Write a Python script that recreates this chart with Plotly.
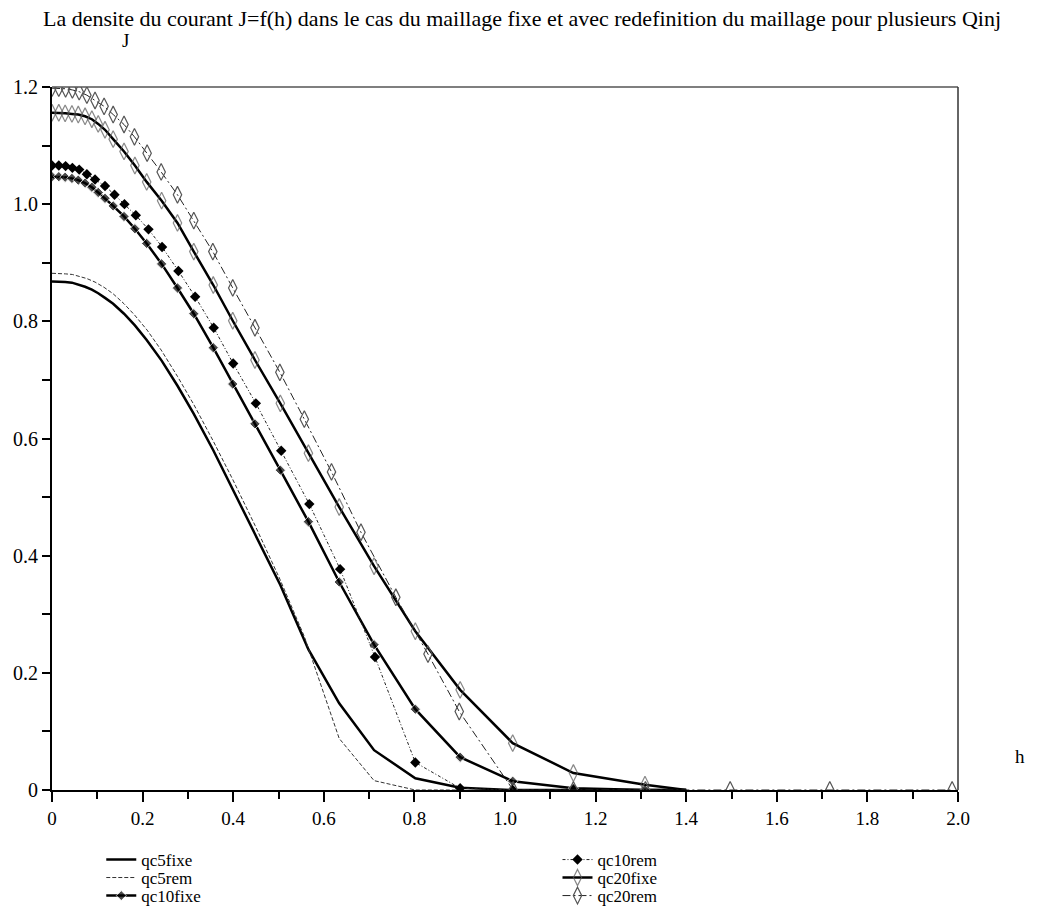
import plotly.graph_objects as go

# ---------------- data ----------------
# fixed mesh (h) used by the "fixe" series
h_fixe = [0.0, 0.015, 0.029, 0.044, 0.058, 0.073, 0.088, 0.102, 0.117, 0.135, 0.159, 0.183,
          0.209, 0.242, 0.277, 0.313, 0.356, 0.399, 0.448, 0.504, 0.566, 0.634, 0.711, 0.802,
          0.901, 1.017, 1.151, 1.309, 1.400]

qc5fixe = [0.868, 0.868, 0.867, 0.866, 0.863, 0.859, 0.854, 0.848, 0.840, 0.830, 0.813, 0.793,
           0.768, 0.733, 0.690, 0.642, 0.580, 0.514, 0.437, 0.350, 0.240, 0.148, 0.068, 0.020,
           0.004, 0.000, 0.000, 0.000, 0.000]

qc10fixe = [1.047, 1.047, 1.046, 1.044, 1.041, 1.036, 1.029, 1.020, 1.010, 0.997, 0.979, 0.958,
            0.933, 0.898, 0.857, 0.813, 0.755, 0.693, 0.625, 0.546, 0.458, 0.355, 0.248, 0.138,
            0.056, 0.015, 0.003, 0.000, 0.000]

qc20fixe = [1.156, 1.156, 1.155, 1.154, 1.153, 1.150, 1.145, 1.137, 1.127, 1.111, 1.090, 1.066,
            1.038, 1.006, 0.968, 0.919, 0.862, 0.801, 0.734, 0.660, 0.575, 0.483, 0.382, 0.271,
            0.171, 0.080, 0.029, 0.009, 0.000]

# remeshed series
h_qc5rem = [0.0, 0.015, 0.030, 0.045, 0.060, 0.077, 0.095, 0.115, 0.135, 0.159, 0.182, 0.210,
            0.241, 0.277, 0.313, 0.355, 0.399, 0.448, 0.503, 0.557, 0.634, 0.711, 0.802, 0.901]
qc5rem = [0.882, 0.882, 0.881, 0.880, 0.877, 0.873, 0.867, 0.858, 0.847, 0.830, 0.811, 0.785,
          0.751, 0.706, 0.658, 0.597, 0.530, 0.452, 0.360, 0.262, 0.088, 0.016, 0.000, 0.000]

h_qc10rem = [0.0, 0.015, 0.030, 0.045, 0.060, 0.077, 0.095, 0.117, 0.138, 0.160, 0.185, 0.213,
             0.243, 0.279, 0.316, 0.357, 0.400, 0.450, 0.506, 0.568, 0.636, 0.713, 0.802, 0.901,
             1.017, 1.151]
qc10rem = [1.066, 1.066, 1.065, 1.062, 1.059, 1.051, 1.042, 1.031, 1.016, 1.000, 0.981, 0.957,
           0.927, 0.886, 0.842, 0.789, 0.728, 0.660, 0.579, 0.488, 0.377, 0.227, 0.047, 0.003,
           0.000, 0.000]

h_qc20rem = [0.0, 0.015, 0.030, 0.045, 0.060, 0.077, 0.095, 0.115, 0.135, 0.159, 0.182, 0.210,
             0.241, 0.277, 0.313, 0.355, 0.399, 0.448, 0.503, 0.557, 0.617, 0.682, 0.759, 0.830,
             0.899, 1.018, 1.151, 1.310, 1.497, 1.717, 1.987]
qc20rem = [1.198, 1.198, 1.197, 1.195, 1.192, 1.186, 1.177, 1.167, 1.153, 1.136, 1.115, 1.087,
           1.055, 1.016, 0.972, 0.919, 0.857, 0.789, 0.713, 0.633, 0.543, 0.440, 0.329, 0.232,
           0.134, 0.000, 0.000, 0.000, 0.000, 0.000, 0.000]

x_tickvals = [0, 0.2, 0.4, 0.6, 0.8, 1.0, 1.2, 1.4, 1.6, 1.8, 2.0]
x_ticktext = ["0", "0.2", "0.4", "0.6", "0.8", "1.0", "1.2", "1.4", "1.6", "1.8", "2.0"]
y_tickvals = [0, 0.2, 0.4, 0.6, 0.8, 1.0, 1.2]
y_ticktext = ["0", "0.2", "0.4", "0.6", "0.8", "1.0", "1.2"]

title_text = ("La densite du courant J=f(h) dans le cas du maillage fixe et avec "
              "redefinition du maillage pour plusieurs Qinj")

# ---------------- figure ----------------
FONT = "Liberation Serif"
fig = go.Figure()


def sizes(n, s, last_hidden=False):
    out = [s] * n
    if last_hidden:
        out[-1] = 0
    return out


fig.add_trace(go.Scatter(x=h_fixe, y=qc5fixe, name="qc5fixe", mode="lines",
                         line=dict(color="black", width=2.5), legend="legend",
                         showlegend=True))
fig.add_trace(go.Scatter(x=h_qc5rem, y=qc5rem, name="qc5rem", mode="lines",
                         line=dict(color="#333333", width=1, dash="4px,2px"), legend="legend2"))
fig.add_trace(go.Scatter(x=h_fixe, y=qc10fixe, name="qc10fixe", mode="lines+markers",
                         line=dict(color="black", width=2.5),
                         marker=dict(symbol="diamond", color="black",
                                     size=sizes(len(h_fixe), 8, True)),
                         legend="legend3"))
fig.add_trace(go.Scatter(x=h_qc10rem, y=qc10rem, name="qc10rem", mode="lines+markers",
                         line=dict(color="#222222", width=1, dash="3px,2px,1px,2px"),
                         marker=dict(symbol="diamond", color="black", size=8),
                         legend="legend4"))
fig.add_trace(go.Scatter(x=h_fixe, y=qc20fixe, name="qc20fixe", mode="lines+markers",
                         line=dict(color="black", width=2.5),
                         marker=dict(symbol="diamond-tall-open", color="#555555",
                                     size=sizes(len(h_fixe), 12, True),
                                     line=dict(width=1.2)),
                         legend="legend5"))
fig.add_trace(go.Scatter(x=h_qc20rem, y=qc20rem, name="qc20rem", mode="lines+markers",
                         line=dict(color="#222222", width=1, dash="8px,3px,2px,3px"),
                         marker=dict(symbol="diamond-tall-open", color="#555555", size=12,
                                     line=dict(width=1.2)),
                         legend="legend6"))

# frame (top and right)
fig.add_shape(type="line", xref="x domain", yref="y domain", x0=0, x1=1, y0=1, y1=1,
              line=dict(color="#555555", width=1.5))
fig.add_shape(type="line", xref="x domain", yref="y domain", x0=1, x1=1, y0=0, y1=1,
              line=dict(color="#333333", width=1.5))


def leg(x, y):
    return dict(x=x, y=y, xref="container", yref="container", xanchor="left",
                yanchor="middle", orientation="v", bgcolor="rgba(0,0,0,0)",
                font=dict(family=FONT, size=17), tracegroupgap=0)


col_x = [0.097, 0.534]
row_y = [0.0518, 0.0320, 0.0121]

fig.update_layout(
    width=1044, height=907,
    showlegend=True,
    margin=dict(l=52, r=86, t=87, b=117, autoexpand=False),
    paper_bgcolor="white", plot_bgcolor="white",
    font=dict(family=FONT, color="black", size=17),
    title=dict(text=title_text, x=0.5, xref="container", y=0.980, yref="container",
               xanchor="center", yanchor="middle", font=dict(family=FONT, size=22)),
    xaxis=dict(range=[0, 2.0], tickvals=x_tickvals, ticktext=x_ticktext,
               showgrid=False, zeroline=False, showline=True, linecolor="black", linewidth=2,
               ticks="outside", ticklen=10, tickwidth=2, tickcolor="black",
               minor=dict(dtick=0.1, tick0=0, ticks="outside", ticklen=7, tickwidth=2,
                          tickcolor="black"),
               tickfont=dict(family=FONT, size=19)),
    yaxis=dict(range=[0, 1.2], tickvals=y_tickvals, ticktext=y_ticktext,
               showgrid=False, zeroline=False, showline=True, linecolor="black", linewidth=2,
               ticks="outside", ticklen=8, tickwidth=2, tickcolor="black",
               minor=dict(dtick=0.1, tick0=0, ticks="outside", ticklen=8, tickwidth=2,
                          tickcolor="black"),
               tickfont=dict(family=FONT, size=20)),
    legend=leg(col_x[0], row_y[0]),
    legend2=leg(col_x[0], row_y[1]),
    legend3=leg(col_x[0], row_y[2]),
    legend4=leg(col_x[1], row_y[0]),
    legend5=leg(col_x[1], row_y[1]),
    legend6=leg(col_x[1], row_y[2]),
    annotations=[
        dict(text="J", xref="paper", yref="paper", x=0.0806, y=1.0668, showarrow=False,
             xanchor="center", yanchor="middle", font=dict(family=FONT, size=19)),
        dict(text="h", xref="paper", yref="paper", x=1.0684, y=0.0476, showarrow=False,
             xanchor="center", yanchor="middle", font=dict(family=FONT, size=19)),
    ],
)

fig.write_html("out.html", config={"displayModeBar": False},
               post_script="document.body.style.margin='0';document.body.style.overflow='hidden';")
